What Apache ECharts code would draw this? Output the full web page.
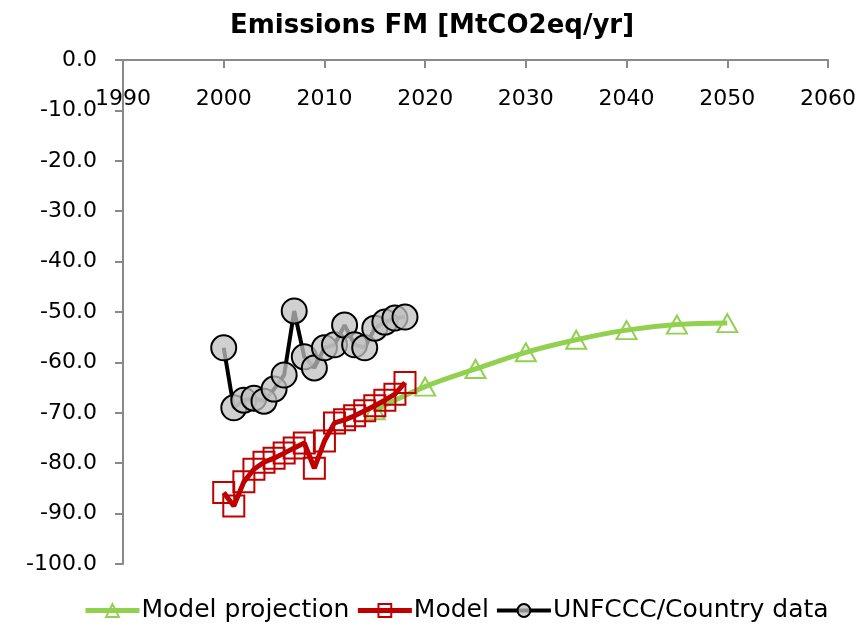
<!DOCTYPE html>
<html>
<head>
<meta charset="utf-8">
<script src="https://cdn.jsdelivr.net/npm/echarts@6/dist/echarts.min.js"></script>
<style>html,body{margin:0;padding:0;background:#fff}#c{width:864px;height:628px}</style>
</head>
<body>
<div id="c"></div>
<script>
const chartTitle = 'Emissions FM [MtCO2eq/yr]';
const xTicks = [1990, 2000, 2010, 2020, 2030, 2040, 2050, 2060];
const yTicks = [0, -10, -20, -30, -40, -50, -60, -70, -80, -90, -100];

const projectionYears = [2015, 2020, 2025, 2030, 2035, 2040, 2045, 2050];
const projectionValues = [-69.5, -64.8, -61.3, -58.0, -55.5, -53.6, -52.5, -52.2];

const modelYears = [2000, 2001, 2002, 2003, 2004, 2005, 2006, 2007, 2008, 2009,
                    2010, 2011, 2012, 2013, 2014, 2015, 2016, 2017, 2018];
const modelValues = [-85.8, -88.5, -83.7, -81.2, -79.8, -79.0, -78.0, -77.0, -76.0, -81.0,
                     -75.6, -72.0, -71.4, -70.6, -69.6, -68.6, -67.5, -66.3, -64.0];

const countryYears = [2000, 2001, 2002, 2003, 2004, 2005, 2006, 2007, 2008, 2009,
                      2010, 2011, 2012, 2013, 2014, 2015, 2016, 2017, 2018];
const countryValues = [-57.1, -69.0, -67.5, -67.1, -67.7, -65.3, -62.5, -49.8, -58.9, -61.1,
                       -57.1, -56.5, -52.6, -56.5, -57.1, -53.2, -52.0, -51.2, -51.0];

const pairs = (xs, ys) => xs.map((x, i) => [x, ys[i]]);
const FONT = 'DejaVu Sans';
const AXIS_COLOR = '#898989';
const GREEN = '#92d050', RED = '#c00000', BLACK = '#000000';

const chart = echarts.init(document.getElementById('c'), null, {renderer: 'canvas'});
chart.setOption({
  animation: false,
  backgroundColor: '#ffffff',
  title: {
    text: chartTitle,
    left: 'center',
    top: 8,
    textStyle: {fontFamily: FONT, fontWeight: 'bold', fontSize: 26, color: '#000'}
  },
  grid: {left: 123, right: 36, top: 60, bottom: 64, containLabel: false},
  xAxis: {
    type: 'value',
    min: xTicks[0],
    max: xTicks[xTicks.length - 1],
    interval: 10,
    position: 'top',
    axisLine: {show: true, onZero: false, lineStyle: {color: AXIS_COLOR, width: 2}},
    axisTick: {show: true, inside: true, length: 8, lineStyle: {color: AXIS_COLOR, width: 2}},
    axisLabel: {inside: true, margin: 28, fontFamily: FONT, fontSize: 22, color: '#000',
                formatter: v => String(v)},
    splitLine: {show: false}
  },
  yAxis: {
    type: 'value',
    min: yTicks[yTicks.length - 1],
    max: yTicks[0],
    interval: 10,
    axisLine: {show: true, onZero: false, lineStyle: {color: AXIS_COLOR, width: 2}},
    axisTick: {show: true, length: 8, lineStyle: {color: AXIS_COLOR, width: 2}},
    axisLabel: {margin: 26, fontFamily: FONT, fontSize: 22, color: '#000',
                formatter: v => v.toFixed(1)},
    splitLine: {show: false}
  },
  legend: {
    bottom: 0,
    left: 78,
    itemWidth: 54,
    itemHeight: 16,
    itemGap: 6,
    textStyle: {fontFamily: FONT, fontSize: 25, color: '#000', padding: [0, 0, 0, -3]},
    data: [
      {name: 'Model projection', lineStyle: {width: 5, color: GREEN}},
      {name: 'Model', lineStyle: {width: 5, color: RED}},
      {name: 'UNFCCC/Country data', lineStyle: {width: 4, color: BLACK}}
    ]
  },
  series: [
    {
      name: 'Model projection',
      type: 'line',
      smooth: 0.35,
      data: pairs(projectionYears, projectionValues),
      symbol: 'triangle',
      symbolSize: [20, 18],
      lineStyle: {color: GREEN, width: 5},
      itemStyle: {color: 'rgba(255,255,255,0)', borderColor: GREEN, borderWidth: 2},
      z: 2
    },
    {
      name: 'Model',
      type: 'line',
      data: pairs(modelYears, modelValues),
      symbol: 'rect',
      symbolSize: 21,
      lineStyle: {color: RED, width: 5},
      itemStyle: {color: 'rgba(255,255,255,0)', borderColor: RED, borderWidth: 2},
      z: 3
    },
    {
      name: 'UNFCCC/Country data',
      type: 'line',
      data: pairs(countryYears, countryValues),
      symbol: 'circle',
      symbolSize: 25,
      lineStyle: {color: BLACK, width: 4},
      itemStyle: {color: 'rgba(192,192,192,0.75)', borderColor: BLACK, borderWidth: 2},
      z: 4
    }
  ]
});
</script>
</body>
</html>
